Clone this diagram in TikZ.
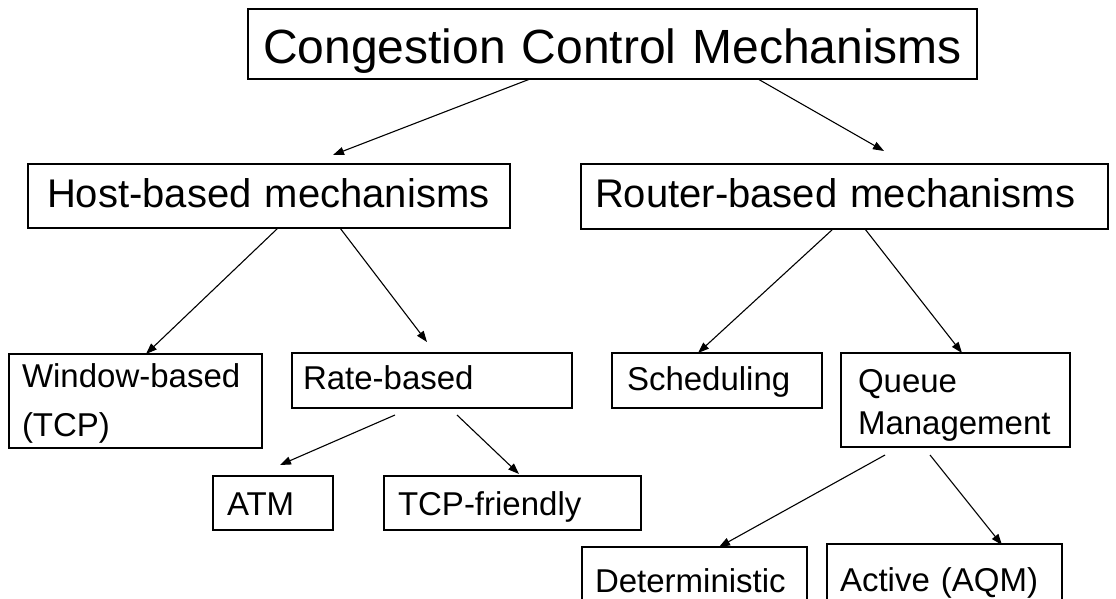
\documentclass[tikz,border=0pt]{standalone}
\usepackage{fontspec}
\setmainfont{Liberation Sans}
\usetikzlibrary{arrows.meta}
\begin{document}
\begin{tikzpicture}[x=1pt,y=-1pt,
  box/.style={draw, line width=1.5pt, rectangle, anchor=north west, inner ysep=0pt, align=left, outer sep=0pt},
  lvlone/.style={font=\fontsize{48}{56}\selectfont},
  lvltwo/.style={font=\fontsize{40}{48}\selectfont},
  lvlthree/.style={font=\fontsize{33}{42}\selectfont},
  arr/.style={line width=1.1pt, -{Triangle[length=11pt,width=8pt]}}]
\useasboundingbox (0,0) rectangle (1116,598);
\clip (0,0) rectangle (1116,598);
% boxes
\node[box, lvlone, align=center, text width=701pt, inner xsep=14pt, text height=54pt, text depth=16pt] (title) at (248,9) {Congestion Control Mechanisms};
\node[box, lvltwo, text width=444pt, inner xsep=19pt, text height=43pt, text depth=21pt] (host) at (28,164) {Host-based mechanisms};
\node[box, lvltwo, text width=499pt, inner xsep=14pt, text height=43pt, text depth=22pt] (router) at (581,164) {Router-based mechanisms};
\node[box, font=\fontsize{33}{49}\selectfont, text width=227pt, inner xsep=13pt, text height=33pt, text depth=61pt] (window) at (9,354) {Window-based\\(TCP)};
\node[box, lvlthree, text width=258pt, inner xsep=11pt, text height=36pt, text depth=19pt] (rate) at (292,353) {Rate-based};
\node[box, lvlthree, text width=180pt, inner xsep=15pt, text height=37pt, text depth=18pt] (sched) at (612,353) {Scheduling};
\node[box, lvlthree, text width=195pt, inner xsep=17pt, text height=39pt, text depth=55pt] (queue) at (841,353) {Queue\\Management};
\node[box, lvlthree, text width=92pt, inner xsep=14pt, text height=39pt, text depth=15pt] (atm) at (213,476) {ATM};
\node[box, lvlthree, text width=229pt, inner xsep=14pt, text height=39pt, text depth=15pt] (tcpf) at (384,476) {TCP-friendly};
\node[box, lvlthree, text width=199pt, inner xsep=13pt, text height=45pt, text depth=40pt] (det) at (582,547) {Deterministic};
\node[box, lvlthree, text width=209pt, inner xsep=13pt, text height=47pt, text depth=40pt] (active) at (827,544) {Active (AQM)};
% arrow tips
\coordinate (tHost) at (333,155);
\coordinate (tRouter) at (884,151);
\coordinate (tRate) at (427,342);
\coordinate (tATM) at (280,465);
\coordinate (tTCPF) at (519,474);
\coordinate (tDet) at (719,547);
\coordinate (tActive) at (1002,545);
% connectors
\draw[arr] ([xshift=282pt]title.south west) -- (tHost);
\draw[arr] ([xshift=510pt]title.south west) -- (tRouter);
\draw[arr] ([xshift=250pt]host.south west) -- ([xshift=137pt]window.north west);
\draw[arr] ([xshift=312pt]host.south west) -- (tRate);
\draw[arr] ([xshift=252pt]router.south west) -- ([xshift=86pt]sched.north west);
\draw[arr] ([xshift=284pt]router.south west) -- ([xshift=121pt]queue.north west);
\draw[arr] ([xshift=103pt,yshift=-7pt]rate.south west) -- (tATM);
\draw[arr] ([xshift=165pt,yshift=-7pt]rate.south west) -- (tTCPF);
\draw[arr] ([xshift=44pt,yshift=-8pt]queue.south west) -- (tDet);
\draw[arr] ([xshift=89pt,yshift=-8pt]queue.south west) -- (tActive);
\end{tikzpicture}
\end{document}
